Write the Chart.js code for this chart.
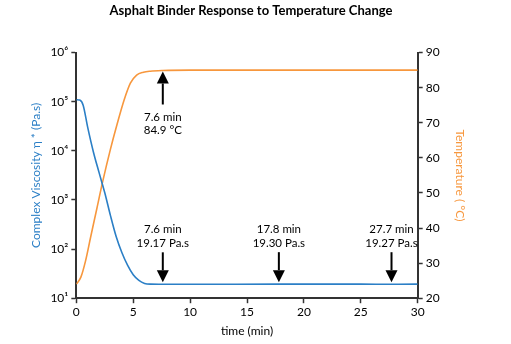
<!DOCTYPE html>
<html>
<head>
<meta charset="utf-8">
<script src="https://cdn.jsdelivr.net/npm/chart.js@4.4.1/dist/chart.umd.min.js"></script>
<style>
  html, body { margin: 0; padding: 0; background: #fff; }
</style>
</head>
<body>
<canvas id="chart" width="511" height="344"></canvas>
<script>
// viscosity curve (time in min, complex viscosity in Pa.s)
const viscTime = [0, 0.3, 0.6, 1.0, 1.5, 2.0, 2.5, 3.0, 3.5, 4.0, 4.5, 5.0, 5.5, 6.0, 6.5, 7.6, 10, 14, 17.8, 22, 25, 27.7, 30];
const viscValues = [110000, 108000, 85000, 30000, 9500, 3600, 1400, 480, 180, 85, 47, 30, 23, 20, 19.3, 19.17, 19.2, 19.25, 19.3, 19.3, 19.3, 19.27, 19.3];

// temperature curve (time in min, temperature in °C)
const tempTime = [0, 0.4, 0.8, 1.25, 1.8, 2.3, 3.0, 3.6, 4.2, 4.75, 5.3, 5.9, 6.5, 7.6, 10, 15, 20, 25, 30];
const tempValues = [24.0, 26.0, 30.5, 37.3, 45.5, 53.0, 62.5, 69.8, 76.5, 81.3, 83.6, 84.4, 84.7, 84.9, 85.0, 85.0, 85.0, 85.0, 85.0];

// annotated points
const viscMarkTimes = [7.6, 17.8, 27.7];
const viscMarkValues = [19.17, 19.30, 19.27];
const tempMarkTime = 7.6;
const tempMarkValue = 84.9;

// axis ticks
const viscTickValues = [10, 100, 1000, 10000, 100000, 1000000];
const viscTickLabels = ['10¹', '10²', '10³', '10⁴', '10⁵', '10⁶'];

const BLUE = '#2b7fc6';
const ORANGE = '#f7973d';
const FONT = 'Lato, "Open Sans", sans-serif';

function toPoints(xs, ys) {
    return xs.map((x, i) => ({ x: x, y: ys[i] }));
}

function drawArrow(ctx, x, from, to) {
    // from = tail y, to = tip y
    const dir = to > from ? 1 : -1;
    const head = 12;
    ctx.lineWidth = 2;
    ctx.beginPath();
    ctx.moveTo(x, from);
    ctx.lineTo(x, to - dir * head);
    ctx.stroke();
    ctx.beginPath();
    ctx.moveTo(x, to);
    ctx.lineTo(x - 6, to - dir * head);
    ctx.lineTo(x + 6, to - dir * head);
    ctx.closePath();
    ctx.fill();
}

const arrowPlugin = {
    id: 'arrows',
    afterDatasetsDraw(chart) {
        const { ctx, scales } = chart;
        ctx.save();
        ctx.fillStyle = '#000';
        ctx.strokeStyle = '#000';
        ctx.font = '11.5px ' + FONT;
        ctx.textAlign = 'center';

        viscMarkTimes.forEach((t, i) => {
            const px = scales.x.getPixelForValue(t);
            const tip = scales.yVisc.getPixelForValue(viscMarkValues[i]) - 2;
            drawArrow(ctx, px, tip - 30, tip);
            ctx.fillText(t.toFixed(1) + ' min', px, tip - 49);
            ctx.fillText(viscMarkValues[i].toFixed(2) + ' Pa.s', px, tip - 35);
        });

        const tx = scales.x.getPixelForValue(tempMarkTime);
        const ttip = scales.yTemp.getPixelForValue(tempMarkValue) + 1;
        drawArrow(ctx, tx, ttip + 33, ttip);
        ctx.fillText(tempMarkTime.toFixed(1) + ' min', tx, ttip + 50);
        ctx.fillText(tempMarkValue.toFixed(1) + ' °C', tx, ttip + 63);
        ctx.restore();
    }
};

const axisBorder = { display: true, color: '#333', width: 2 };
const axisGrid = { drawOnChartArea: false, drawTicks: true, tickLength: 5, color: '#333', tickWidth: 1.5 };

new Chart(document.getElementById('chart').getContext('2d'), {
    type: 'line',
    data: {
        datasets: [
            {
                label: 'Complex Viscosity',
                data: toPoints(viscTime, viscValues),
                yAxisID: 'yVisc',
                borderColor: BLUE,
                borderWidth: 1.6,
                pointRadius: 0,
                cubicInterpolationMode: 'monotone'
            },
            {
                label: 'Temperature',
                data: toPoints(tempTime, tempValues),
                yAxisID: 'yTemp',
                borderColor: ORANGE,
                borderWidth: 1.6,
                pointRadius: 0,
                cubicInterpolationMode: 'monotone'
            }
        ]
    },
    options: {
        responsive: false,
        animation: false,
        layout: { padding: { top: 0, left: 25, right: 34, bottom: 6 } },
        plugins: {
            legend: { display: false },
            tooltip: { enabled: false },
            title: {
                display: true,
                text: 'Asphalt Binder Response to Temperature Change',
                color: '#000',
                font: { family: FONT, size: 13, weight: 'bold' },
                padding: { top: 3, bottom: 34 }
            }
        },
        scales: {
            x: {
                type: 'linear',
                min: 0,
                max: 30,
                border: axisBorder,
                grid: axisGrid,
                ticks: { stepSize: 5, color: '#000', padding: 2, maxRotation: 0, font: { family: FONT, size: 12 } },
                title: { display: true, text: 'time (min)', color: '#000', padding: { top: 2, bottom: 0 }, font: { family: FONT, size: 12 } }
            },
            yVisc: {
                type: 'logarithmic',
                position: 'left',
                min: 10,
                max: 1000000,
                border: axisBorder,
                grid: axisGrid,
                afterBuildTicks(scale) {
                    scale.ticks = viscTickValues.map(v => ({ value: v }));
                },
                ticks: {
                    color: '#000',
                    padding: 3,
                    font: { family: FONT, size: 12 },
                    callback: (value) => viscTickLabels[viscTickValues.indexOf(value)]
                },
                title: { display: true, text: 'Complex Viscosity η * (Pa.s)', color: BLUE, padding: 4, font: { family: FONT, size: 12 } }
            },
            yTemp: {
                type: 'linear',
                position: 'right',
                min: 20,
                max: 90,
                border: axisBorder,
                grid: axisGrid,
                ticks: { stepSize: 10, color: '#000', padding: 3, font: { family: FONT, size: 12 } },
                title: { display: true, text: 'Temperature ( °C)', color: ORANGE, padding: 10, font: { family: FONT, size: 12 } }
            }
        }
    },
    plugins: [arrowPlugin]
});
</script>
</body>
</html>
